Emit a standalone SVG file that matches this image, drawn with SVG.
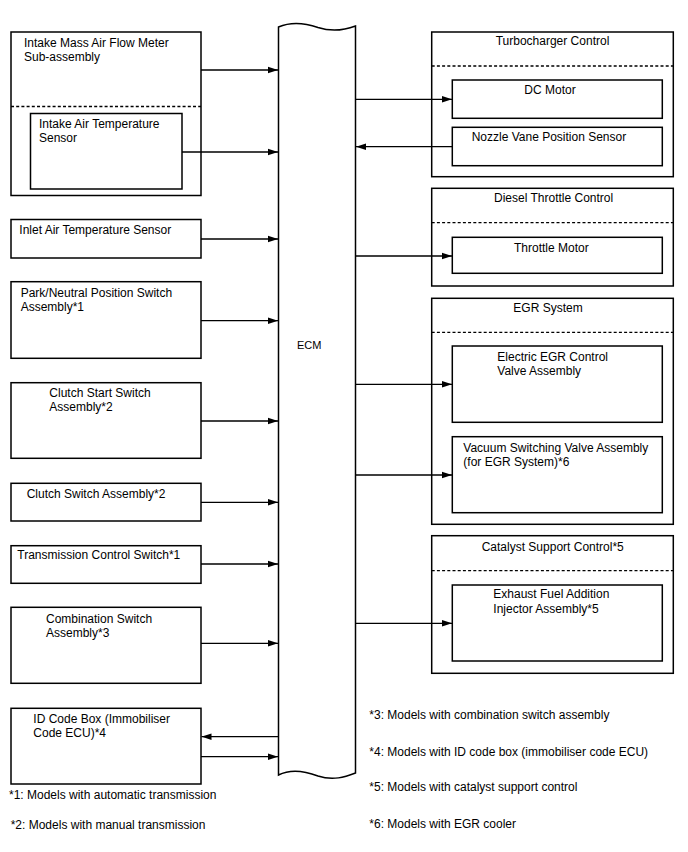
<svg xmlns="http://www.w3.org/2000/svg" width="688" height="852" viewBox="0 0 688 852">
<defs>
<marker id="ah" markerWidth="10" markerHeight="8" refX="10" refY="4" orient="auto" markerUnits="userSpaceOnUse">
<path d="M0,0.8 L10,4 L0,7.2 Z" fill="#000"/>
</marker>
<style>
.box{fill:#fff;stroke:#000;stroke-width:1.5}
.dash{fill:none;stroke:#000;stroke-width:1.3;stroke-dasharray:3,2.2}
.t{font-family:"Liberation Sans",Arial,sans-serif;font-size:12px;fill:#000}
.c{stroke:#000;stroke-width:1.3;fill:none;marker-end:url(#ah)}
</style>
</defs>
<rect width="688" height="852" fill="#fff"/>

<g id="ecm">
<path class="box" d="M278.5,27 C290,22 305,23 318,27.5 C332,32 345,30 355.5,26 L355.5,773 C345,777 333,781 318,776 C305,771 290,769 278.5,775 Z"/>
<text class="t" x="297" y="349" style="font-size:11px">ECM</text>
</g>

<g id="maf">
<rect class="box" x="11" y="32" width="190" height="163.5"/>
<line class="dash" x1="11" y1="106.5" x2="201" y2="106.5"/>
<text class="t" x="24" y="47">Intake Mass Air Flow Meter</text>
<text class="t" x="24" y="60.5">Sub-assembly</text>
</g>
<g id="iat">
<rect class="box" x="30.5" y="113.5" width="151.5" height="75.5"/>
<text class="t" x="39" y="128">Intake Air Temperature</text>
<text class="t" x="39" y="141.5">Sensor</text>
</g>
<g id="inlet">
<rect class="box" x="11" y="219.5" width="190" height="38.5"/>
<text class="t" x="19.3" y="234">Inlet Air Temperature Sensor</text>
</g>
<g id="pnp">
<rect class="box" x="11" y="281.7" width="190" height="76.6"/>
<text class="t" x="20.7" y="296.7">Park/Neutral Position Switch</text>
<text class="t" x="20.7" y="310.7">Assembly*1</text>
</g>
<g id="clutchstart">
<rect class="box" x="11" y="382.7" width="190" height="75.6"/>
<text class="t" x="49.3" y="396.7">Clutch Start Switch</text>
<text class="t" x="49.3" y="410.7">Assembly*2</text>
</g>
<g id="clutch">
<rect class="box" x="11" y="483.3" width="190" height="37.7"/>
<text class="t" x="26.7" y="498.3">Clutch Switch Assembly*2</text>
</g>
<g id="tcs">
<rect class="box" x="11" y="545.7" width="190" height="37.6"/>
<text class="t" x="17.3" y="559.3">Transmission Control Switch*1</text>
</g>
<g id="combo">
<rect class="box" x="11" y="607.3" width="190" height="76"/>
<text class="t" x="46" y="622.7">Combination Switch</text>
<text class="t" x="46" y="636.7">Assembly*3</text>
</g>
<g id="idbox">
<rect class="box" x="11" y="708.3" width="190" height="75.7"/>
<text class="t" x="33.3" y="723.3">ID Code Box (Immobiliser</text>
<text class="t" x="33.3" y="737">Code ECU)*4</text>
</g>

<g id="turbo">
<rect class="box" x="431.7" y="32" width="241.6" height="144.7"/>
<line class="dash" x1="431.7" y1="66" x2="673.3" y2="66"/>
<text class="t" x="495.7" y="45">Turbocharger Control</text>
</g>
<g id="dcmotor">
<rect class="box" x="452.3" y="80" width="210" height="38.3"/>
<text class="t" x="524.3" y="94">DC Motor</text>
</g>
<g id="nozzle">
<rect class="box" x="452.3" y="127.3" width="210" height="38.4"/>
<text class="t" x="471.7" y="140.7">Nozzle Vane Position Sensor</text>
</g>
<g id="throttle">
<rect class="box" x="431.7" y="188.3" width="241.6" height="97.7"/>
<line class="dash" x1="431.7" y1="222.7" x2="673.3" y2="222.7"/>
<text class="t" x="494" y="201.7">Diesel Throttle Control</text>
</g>
<g id="tmotor">
<rect class="box" x="452.3" y="237.3" width="210" height="36"/>
<text class="t" x="514" y="251.7">Throttle Motor</text>
</g>
<g id="egr">
<rect class="box" x="431.7" y="298.3" width="241.6" height="226"/>
<line class="dash" x1="431.7" y1="332.3" x2="673.3" y2="332.3"/>
<text class="t" x="513.3" y="311.7">EGR System</text>
</g>
<g id="eegr">
<rect class="box" x="452.3" y="346" width="210" height="76.3"/>
<text class="t" x="497.3" y="361">Electric EGR Control</text>
<text class="t" x="497.3" y="375">Valve Assembly</text>
</g>
<g id="vsv">
<rect class="box" x="452.3" y="436.7" width="210" height="76"/>
<text class="t" x="463.3" y="451.7">Vacuum Switching Valve Assembly</text>
<text class="t" x="463.3" y="466">(for EGR System)*6</text>
</g>
<g id="catalyst">
<rect class="box" x="431.7" y="535.7" width="241.6" height="137.6"/>
<line class="dash" x1="431.7" y1="570.7" x2="673.3" y2="570.7"/>
<text class="t" x="481.7" y="550.7">Catalyst Support Control*5</text>
</g>
<g id="injector">
<rect class="box" x="452.3" y="585" width="210" height="76"/>
<text class="t" x="493.3" y="598.3">Exhaust Fuel Addition</text>
<text class="t" x="493.3" y="613.3">Injector Assembly*5</text>
</g>

<g id="connectors">
<line class="c" x1="201" y1="70" x2="278" y2="70"/>
<line class="c" x1="182" y1="152" x2="278" y2="152"/>
<line class="c" x1="201" y1="239" x2="278" y2="239"/>
<line class="c" x1="201" y1="320.7" x2="278" y2="320.7"/>
<line class="c" x1="201" y1="421" x2="278" y2="421"/>
<line class="c" x1="201" y1="502.3" x2="278" y2="502.3"/>
<line class="c" x1="201" y1="564" x2="278" y2="564"/>
<line class="c" x1="201" y1="643.3" x2="278" y2="643.3"/>
<line class="c" x1="278" y1="736.7" x2="201.5" y2="736.7"/>
<line class="c" x1="201" y1="756.7" x2="278" y2="756.7"/>
<line class="c" x1="355.5" y1="99.3" x2="452" y2="99.3"/>
<line class="c" x1="452" y1="146.7" x2="356" y2="146.7"/>
<line class="c" x1="355.5" y1="256" x2="452" y2="256"/>
<line class="c" x1="355.5" y1="384.3" x2="452" y2="384.3"/>
<line class="c" x1="355.5" y1="475" x2="452" y2="475"/>
<line class="c" x1="355.5" y1="623.3" x2="452" y2="623.3"/>
</g>

<g id="notes">
<text class="t" x="9" y="799">*1: Models with automatic transmission</text>
<text class="t" x="10.7" y="829.3">*2: Models with manual transmission</text>
<text class="t" x="369.3" y="719.3">*3: Models with combination switch assembly</text>
<text class="t" x="369.3" y="756">*4: Models with ID code box (immobiliser code ECU)</text>
<text class="t" x="369.3" y="790.7">*5: Models with catalyst support control</text>
<text class="t" x="369.3" y="828.3">*6: Models with EGR cooler</text>
</g>
</svg>
